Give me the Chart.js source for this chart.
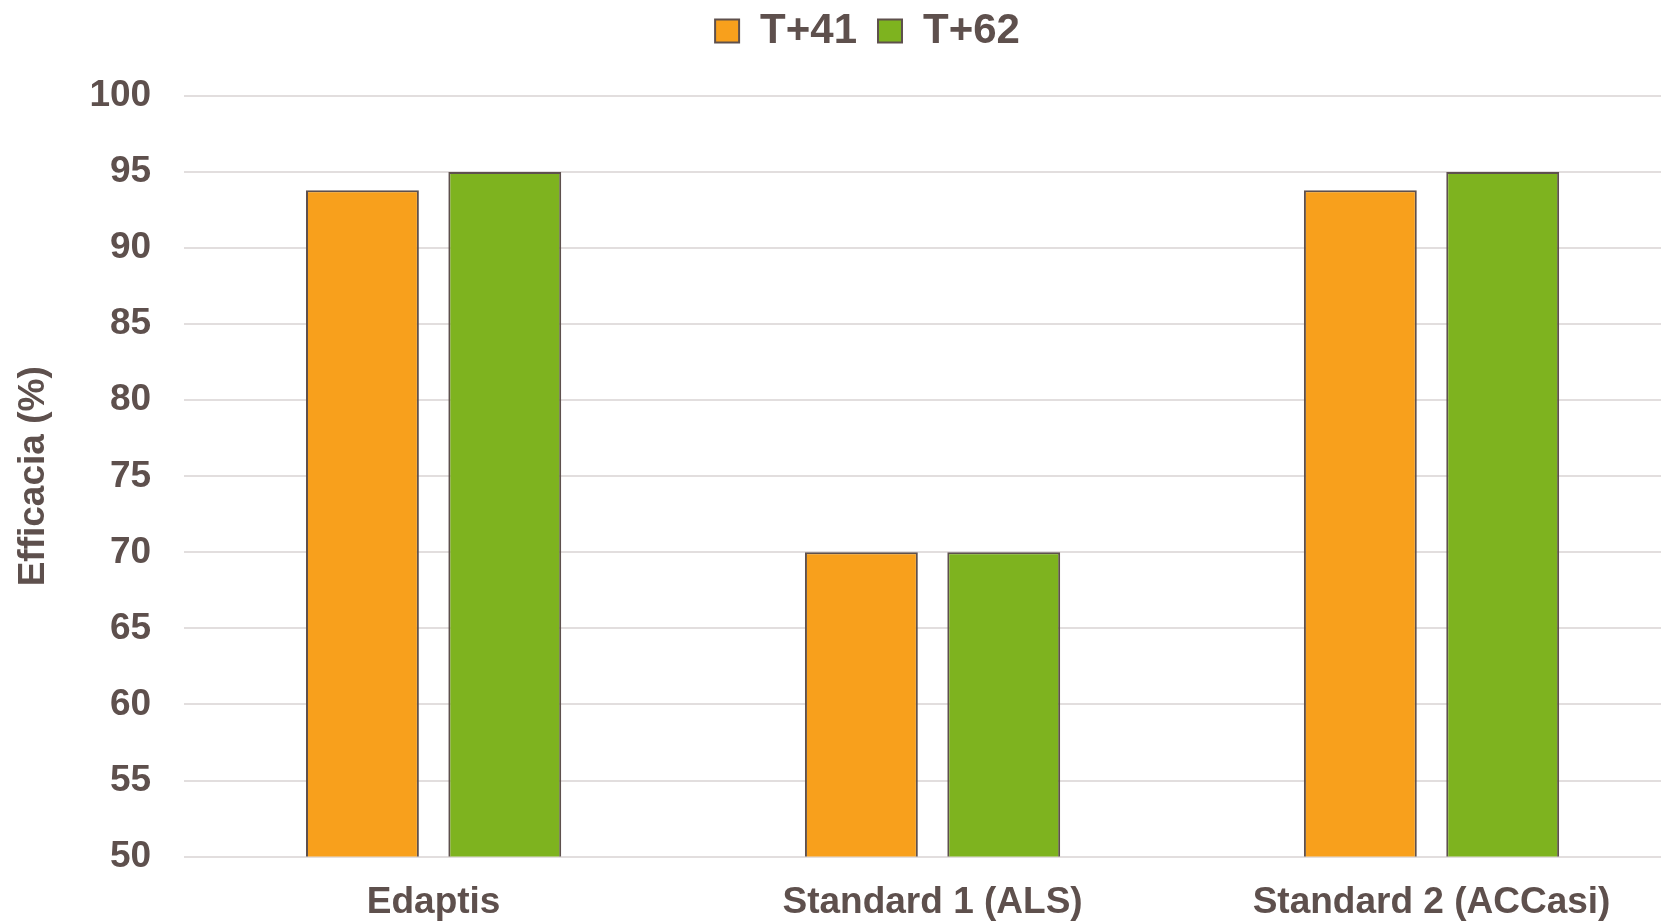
<!DOCTYPE html>
<html>
<head>
<meta charset="utf-8">
<script src="https://cdn.jsdelivr.net/npm/chart.js@4.4.1/dist/chart.umd.min.js"></script>
<style>
html,body{margin:0;padding:0;background:#fff;overflow:hidden;}
#wrap{width:1661px;height:921px;overflow:hidden;position:relative;}
#box{width:1724px;height:921px;position:absolute;left:0;top:0;}
</style>
</head>
<body>
<div id="wrap"><div id="box"><canvas id="c"></canvas></div></div>
<script>
const categories = ["Edaptis", "Standard 1 (ALS)", "Standard 2 (ACCasi)"];
const seriesNames = ["T+41", "T+62"];
const valuesT41 = [93.8, 70, 93.8];
const valuesT62 = [95, 70, 95];
const yTicks = [50, 55, 60, 65, 70, 75, 80, 85, 90, 95, 100];

const textColor = '#5e504d';
const font = 'Arial, "Liberation Sans", sans-serif';

const legendTweak = {
  id: 'legendTweak',
  beforeInit(chart) {
    const lg = chart.legend;
    if (!lg) return;
    const origFit = lg.fit;
    lg.fit = function () { origFit.call(this); this.height += 23; };
  },
  afterLayout(chart) {
    const lg = chart.legend;
    if (!lg) return;
    lg.left += 22; lg.right += 22;
    lg.top -= 11; lg.bottom -= 11;
  }
};

new Chart(document.getElementById('c'), {
  type: 'bar',
  data: {
    labels: categories,
    datasets: [
      { label: seriesNames[0], data: valuesT41, backgroundColor: '#f8a01c', borderColor: '#5e504d', borderWidth: 2 },
      { label: seriesNames[1], data: valuesT62, backgroundColor: '#7eb31f', borderColor: '#5e504d', borderWidth: 2 }
    ]
  },
  plugins: [legendTweak],
  options: {
    responsive: true,
    maintainAspectRatio: false,
    animation: false,
    layout: { padding: { left: 10, right: 43, top: 0, bottom: -28 } },
    datasets: { bar: { categoryPercentage: 0.5706, barPercentage: 0.793 } },
    plugins: {
      legend: {
        position: 'top',
        labels: {
          color: textColor,
          font: { family: font, size: 42, weight: 'bold' },
          boxWidth: 24, boxHeight: 23, padding: 21
        }
      },
      tooltip: { enabled: false }
    },
    scales: {
      x: {
        grid: { display: false, drawTicks: false },
        border: { display: false },
        ticks: { color: textColor, font: { family: font, size: 37, weight: 'bold' }, padding: 24, maxRotation: 0 }
      },
      y: {
        min: 50, max: 100,
        afterBuildTicks: (axis) => { axis.ticks = yTicks.map(v => ({ value: v })); },
        grid: { color: '#e2dede', lineWidth: 2, drawTicks: false },
        border: { display: false },
        ticks: { color: textColor, font: { family: font, size: 37, weight: 'bold' }, padding: 33 },
        title: { display: true, text: 'Efficacia (%)', color: textColor, font: { family: font, size: 37, weight: 'bold' }, padding: { top: 2, bottom: 0 } }
      }
    }
  }
});
</script>
</body>
</html>
